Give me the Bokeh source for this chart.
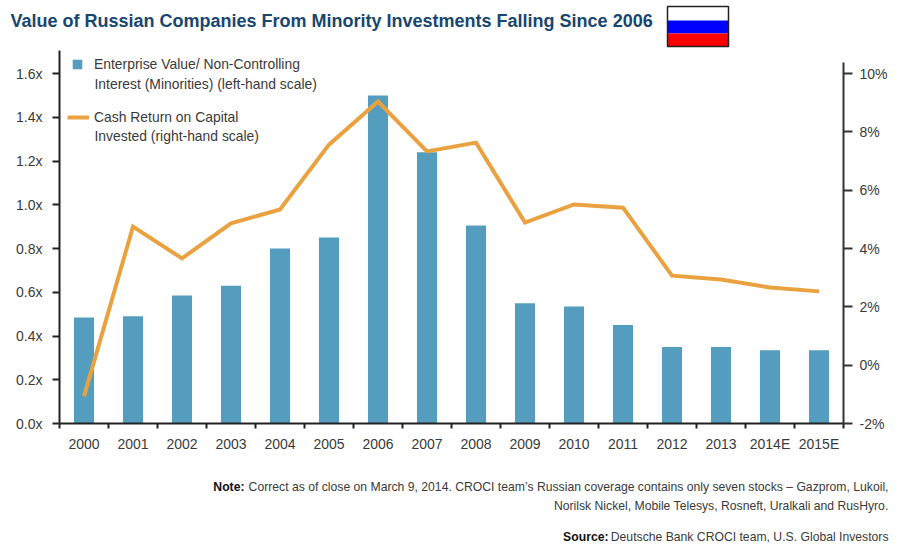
from bokeh.plotting import figure
from bokeh.layouts import column
from bokeh.embed import file_html
from bokeh.resources import INLINE
from bokeh.models import (Range1d, LinearAxis, FixedTicker, Legend, LegendItem, Label, BoxAnnotation)

years = ["2000","2001","2002","2003","2004","2005","2006","2007","2008","2009","2010","2011","2012","2013","2014E","2015E"]
ev_minorities = [0.485,0.49,0.585,0.63,0.80,0.85,1.50,1.24,0.905,0.55,0.535,0.45,0.35,0.35,0.335,0.335]
cash_return = [-1.07,4.75,3.66,4.86,5.34,7.56,9.04,7.33,7.63,4.89,5.51,5.40,3.07,2.94,2.66,2.53]
left_ticks = [0.0,0.2,0.4,0.6,0.8,1.0,1.2,1.4,1.6]
right_ticks = [-2,0,2,4,6,8,10]
title_text = "Value of Russian Companies From Minority Investments Falling Since 2006"
note1 = "Correct as of close on March 9, 2014. CROCI team\u2019s Russian coverage contains only seven stocks \u2013 Gazprom, Lukoil,"
note2 = "Norilsk Nickel, Mobile Telesys, Rosneft, Uralkali and RusHyro."
src = "Deutsche Bank CROCI team, U.S. Global Investors"

FONT = "Liberation Sans"
TXT = "#3a3a3a"
BLUE = "#559dbf"
ORANGE = "#e9a23f"

W = 900
HEAD_H, MAIN_H, FOOT_H = 50, 420, 81
L, R, B = 59, 843, 423
T = HEAD_H
PX = (B - 73) / 1.6


def strip(height):
    f = figure(width=W, height=height, output_backend="svg", toolbar_location=None,
               x_range=Range1d(0, W), y_range=Range1d(0, height), frame_align=False,
               min_border=0, x_axis_location=None, y_axis_location=None)
    f.outline_line_color = None
    f.grid.visible = False
    return f


head = strip(HEAD_H)
foot = strip(FOOT_H)

p = figure(width=W, height=MAIN_H, output_backend="svg", toolbar_location=None,
           x_range=Range1d(0, len(years)), frame_align=False,
           y_range=Range1d(0, (B - T) / PX),
           min_border_left=L, min_border_right=W - R, min_border_top=0, min_border_bottom=HEAD_H + MAIN_H - B,
           x_axis_location=None, y_axis_location=None)
p.outline_line_color = None
p.grid.visible = False

rpx = (B - 73) / 12
p.extra_y_ranges = {"r": Range1d(-2, -2 + (B - T) / rpx)}

centres = [i + 0.5 for i in range(len(years))]
edges = list(range(len(years) + 1))

xax = LinearAxis(ticker=FixedTicker(ticks=centres, minor_ticks=edges),
                 major_label_overrides={c: y for c, y in zip(centres, years)})
xax.major_tick_line_color = None
xax.minor_tick_out = 5
xax.minor_tick_in = 0
xax.minor_tick_line_color = "#222222"
xax.minor_tick_line_width = 2
xax.axis_line_color = "#222222"
xax.axis_line_width = 2
xax.major_label_standoff = 6
xax.major_label_text_font = FONT
xax.major_label_text_font_size = "14px"
xax.major_label_text_color = TXT
p.add_layout(xax, "below")

lax = LinearAxis(ticker=FixedTicker(ticks=left_ticks),
                 major_label_overrides={v: f"{v:.1f}x" for v in left_ticks})
lax.major_tick_out = 7
lax.major_tick_in = 0
lax.minor_tick_line_color = None
lax.major_tick_line_color = "#222222"
lax.major_tick_line_width = 2
lax.axis_line_color = "#222222"
lax.axis_line_width = 2
lax.major_label_standoff = 10
lax.major_label_text_font = FONT
lax.major_label_text_font_size = "14px"
lax.major_label_text_color = TXT
p.add_layout(lax, "left")

rax = LinearAxis(y_range_name="r", ticker=FixedTicker(ticks=right_ticks),
                 major_label_overrides={v: f"{v}%" for v in right_ticks},
                 bounds=(-2, 10.38))
rax.major_tick_out = 9
rax.major_tick_in = 0
rax.minor_tick_line_color = None
rax.major_tick_line_color = "#333333"
rax.major_tick_line_width = 2
rax.axis_line_color = "#333333"
rax.axis_line_width = 2
rax.major_label_standoff = 7
rax.major_label_text_font = FONT
rax.major_label_text_font_size = "14px"
rax.major_label_text_color = TXT
p.add_layout(rax, "right")

bars = p.vbar(x=centres, top=ev_minorities, bottom=0, width=0.41, fill_color=BLUE, line_color=None)
line = p.line(x=centres, y=cash_return, y_range_name="r", line_color=ORANGE, line_width=4, line_join="miter")


def legend(label, rend, x, yc, gw, gh, standoff):
    leg = Legend(items=[LegendItem(label=label, renderers=[rend])], orientation="vertical",
                 glyph_width=gw, glyph_height=gh, label_standoff=standoff,
                 label_text_font=FONT, label_text_font_size="13.9px", label_text_color=TXT,
                 border_line_color=None, background_fill_alpha=0, margin=0, padding=0)
    leg.location = (x - L, B - yc - 9)
    p.add_layout(leg)


legend("Enterprise Value/ Non-Controlling", bars, 71, 63, 12, 12, 11)
legend("Cash Return on Capital", line, 67, 116, 22, 14, 5)


def lab(fig, x, ysc, text, size="13.9px", color=TXT, style="normal", align="left"):
    fig.add_layout(Label(x=x, y=ysc, x_units="screen", y_units="screen", text=text, text_font=FONT,
                         text_font_size=size, text_color=color, text_font_style=style,
                         text_align=align, text_baseline="middle"))


lab(p, 94 - L, B - 83, "Interest (Minorities) (left-hand scale)")
lab(p, 94 - L, B - 135, "Invested (right-hand scale)")
lab(head, 10, HEAD_H - 20, title_text, "18px", "#17466f", "bold")

F = HEAD_H + MAIN_H + FOOT_H
lab(foot, 888, F - 486, note1, "12.2px", TXT, "normal", "right")
lab(foot, 888, F - 505, note2, "12.2px", TXT, "normal", "right")
lab(foot, 888, F - 536, src, "12.2px", TXT, "normal", "right")
lab(foot, 244, F - 486, "Note:", "12.2px", "#111111", "bold", "right")
lab(foot, 608, F - 536, "Source:", "12.2px", "#111111", "bold", "right")


def box(top, bot, **kw):
    head.add_layout(BoxAnnotation(left=667, right=728, top=HEAD_H - top, bottom=HEAD_H - bot,
                                  left_units="screen", right_units="screen", top_units="screen", bottom_units="screen",
                                  level="overlay", **kw))


for top, bot, col in [(6, 20, "#ffffff"), (20, 33, "#0000ff"), (33, 46, "#ff0000")]:
    box(top, bot, fill_color=col, fill_alpha=1, line_color=None)
box(6, 46, fill_alpha=0, line_color="#222222", line_width=1.5, line_alpha=1)

page = column(head, p, foot, spacing=0)
open("out.html", "w").write(file_html(page, INLINE))
